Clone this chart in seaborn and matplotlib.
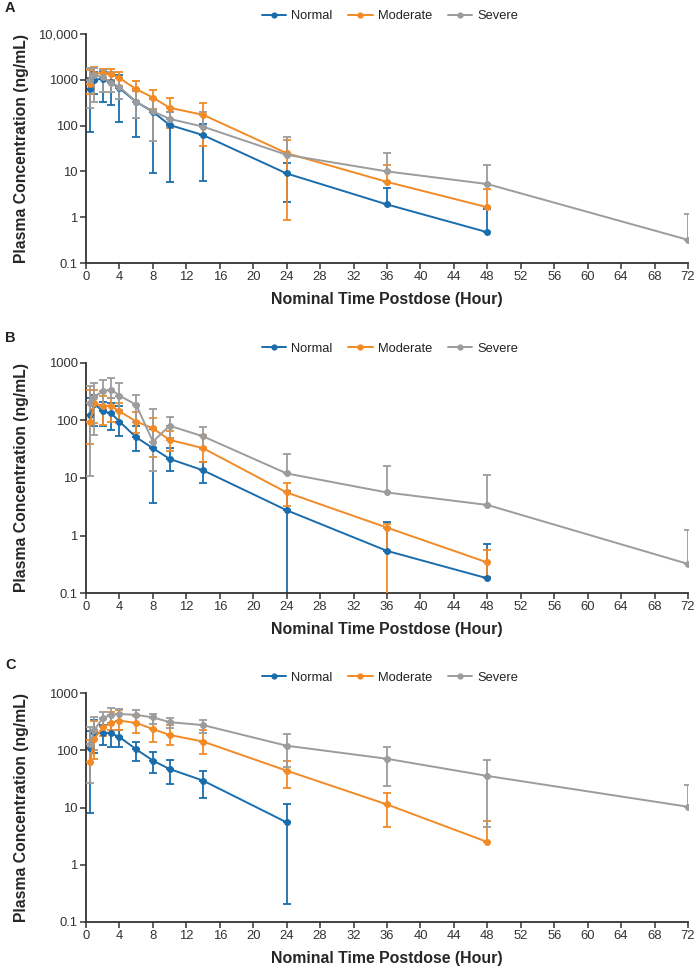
import numpy as np
import pandas as pd
import seaborn as sns
import matplotlib.pyplot as plt
from matplotlib.lines import Line2D
from matplotlib.ticker import FixedLocator, FuncFormatter, NullLocator

nan = np.nan

# ---------------- data ----------------
times = [0.5, 1, 2, 3, 4, 6, 8, 10, 14, 24, 36, 48, 72]
groups = ["Normal", "Moderate", "Severe"]
colors = ["#1a6dad", "#f28a26", "#9c9c9c"]

# Panel A
a_normal_mean = [620, 1000, 1050, 880, 650, 330, 200, 103, 62, 9.0, 1.9, 0.47, nan]
a_normal_lo = [74, 500, 320, 285, 120, 56, 9.0, 6.0, 6.2, 2.2, nan, nan, nan]
a_normal_hi = [1100, 1500, 1500, 1400, 1300, 600, 380, 200, 110, 15.5, 4.4, 1.5, nan]
a_moderate_mean = [820, 1350, 1400, 1350, 1090, 625, 410, 245, 172, 25, 5.9, 1.65, nan]
a_moderate_lo = [500, 950, 1050, 1000, 740, 330, 230, 90, 35, 0.87, nan, nan, nan]
a_moderate_hi = [1600, 1900, 1700, 1700, 1450, 920, 600, 400, 310, 48, 14, 4.2, nan]
a_severe_mean = [1000, 1250, 1150, 860, 700, 330, 205, 140, 95, 23, 10, 5.3, 0.32]
a_severe_lo = [245, 320, 530, 530, 385, 145, 45, 95, nan, nan, nan, nan, nan]
a_severe_hi = [1800, 1800, 1600, 1500, 1100, 560, 380, 200, 196, 55, 25, 14, 1.18]

# Panel B
b_normal_mean = [125, 195, 145, 134, 96, 51, 33, 21.5, 13.6, 2.75, 0.54, 0.18, nan]
b_normal_lo = [nan, 80, 79, 69, 53, 29, 3.7, 13, 8.1, 0.01, nan, nan, nan]
b_normal_hi = [250, 280, 210, 200, 180, 80, 70, 33, 19, 6.0, 1.7, 0.70, nan]
b_moderate_mean = [96, 200, 180, 180, 145, 96, 73, 46, 33, 5.6, 1.37, 0.34, nan]
b_moderate_lo = [39, 90, 84, 95, 92, 60, 23.6, 29, 19, 3.3, 0.01, 0.19, nan]
b_moderate_hi = [340, 340, 270, 245, 200, 138, 110, 65, 56, 8.1, 1.6, 0.55, nan]
b_severe_mean = [205, 260, 320, 345, 270, 188, 43, 81, 53, 12, 5.6, 3.4, 0.32]
b_severe_lo = [11, 56, 158, 245, 154, 96, 13.5, 49, 32, nan, nan, nan, nan]
b_severe_hi = [400, 450, 510, 550, 450, 275, 160, 113, 76, 26, 16.4, 11.4, 1.24]

# Panel C
c_normal_mean = [108, 200, 200, 198, 170, 104, 66, 47, 29.5, 5.5, nan, nan, nan]
c_normal_lo = [7.9, 90, 124, 116, 116, 65, 40, 26, 14.4, 0.21, nan, nan, nan]
c_normal_hi = [220, 340, 280, 300, 228, 142, 92, 68, 44, 11.3, nan, nan, nan]
c_moderate_mean = [62, 160, 250, 300, 330, 300, 235, 185, 142, 44, 11.3, 2.5, nan]
c_moderate_lo = [nan, 70, 180, 230, 230, 200, 142, 124, 86, 21.6, 4.5, nan, nan]
c_moderate_hi = [150, 330, 350, 470, 510, 400, 365, 280, 228, 65, 18, 5.8, nan]
c_severe_mean = [130, 228, 365, 415, 430, 415, 375, 310, 275, 120, 71, 35.6, 10.3]
c_severe_lo = [26.7, 100, 250, 300, 325, 300, 290, 243, 200, 51, 23.6, 4.5, nan]
c_severe_hi = [250, 380, 470, 545, 525, 510, 435, 365, 340, 194, 116, 68, 24.5]

y_ticks_a = [0.1, 1, 10, 100, 1000, 10000]
y_ticks_bc = [0.1, 1, 10, 100, 1000]
x_ticks = list(range(0, 73, 4))
x_label = "Nominal Time Postdose (Hour)"
y_label = "Plasma Concentration (ng/mL)"

panels = [
    dict(letter="A", ticks=y_ticks_a,
         mean=[a_normal_mean, a_moderate_mean, a_severe_mean],
         lo=[a_normal_lo, a_moderate_lo, a_severe_lo],
         hi=[a_normal_hi, a_moderate_hi, a_severe_hi]),
    dict(letter="B", ticks=y_ticks_bc,
         mean=[b_normal_mean, b_moderate_mean, b_severe_mean],
         lo=[b_normal_lo, b_moderate_lo, b_severe_lo],
         hi=[b_normal_hi, b_moderate_hi, b_severe_hi]),
    dict(letter="C", ticks=y_ticks_bc,
         mean=[c_normal_mean, c_moderate_mean, c_severe_mean],
         lo=[c_normal_lo, c_moderate_lo, c_severe_lo],
         hi=[c_normal_hi, c_moderate_hi, c_severe_hi]),
]

# ---------------- style ----------------
sns.set_theme(style="ticks")
plt.rcParams["font.family"] = ["Liberation Sans", "DejaVu Sans"]
plt.rcParams["axes.edgecolor"] = "#333333"
plt.rcParams["xtick.color"] = "#333333"
plt.rcParams["ytick.color"] = "#333333"
plt.rcParams["text.color"] = "#222222"

W, H = 695, 975
fig = plt.figure(figsize=(W / 100, H / 100), dpi=100)

# axes rects in pixels: (left, top, right, bottom)
px_rects = [(86, 34, 688, 263), (86, 363, 688, 593), (86, 693, 688, 922)]
legend_y = [16, 349, 678]
letter_y = [8, 338, 665]


def fmt(v, pos):
    if v >= 10000:
        return f"{int(v):,}"
    if v >= 1:
        return f"{int(v)}"
    return f"{v:g}"


palette = dict(zip(groups, colors))

for i, p in enumerate(panels):
    l, t, r, b = px_rects[i]
    ax = fig.add_axes([l / W, 1 - b / H, (r - l) / W, (b - t) / H])

    rows = []
    for g, m in zip(groups, p["mean"]):
        for tt, v in zip(times, m):
            if not np.isnan(v):
                rows.append(dict(time=tt, conc=v, group=g))
    df = pd.DataFrame(rows)

    for gi, g in enumerate(groups):
        m = np.array(p["mean"][gi], dtype=float)
        lo = np.array(p["lo"][gi], dtype=float)
        hi = np.array(p["hi"][gi], dtype=float)
        tt = np.array(times, dtype=float)
        ok = ~np.isnan(m)
        up_ok = ok & ~np.isnan(hi)
        ax.errorbar(tt[up_ok], m[up_ok], yerr=[np.zeros(up_ok.sum()), hi[up_ok] - m[up_ok]],
                    fmt="none", ecolor=colors[gi], elinewidth=1.3, capsize=3.2,
                    capthick=1.3, zorder=2 + gi)
        lo_ok = ok & ~np.isnan(lo)
        ax.errorbar(tt[lo_ok], m[lo_ok], yerr=[m[lo_ok] - lo[lo_ok], np.zeros(lo_ok.sum())],
                    fmt="none", ecolor=colors[gi], elinewidth=1.3, capsize=3.2,
                    capthick=1.3, zorder=2 + gi)

    sns.lineplot(data=df, x="time", y="conc", hue="group", hue_order=groups,
                 palette=palette, marker="o", markersize=5, markeredgewidth=0,
                 linewidth=1.4, estimator=None, errorbar=None, ax=ax, legend=False,
                 zorder=5)

    ax.set_yscale("log")
    ax.set_ylim(p["ticks"][0], p["ticks"][-1])
    ax.set_xlim(0, 72)
    ax.yaxis.set_major_locator(FixedLocator(p["ticks"]))
    ax.yaxis.set_minor_locator(NullLocator())
    ax.yaxis.set_major_formatter(FuncFormatter(fmt))
    ax.set_xticks(x_ticks)
    ax.tick_params(axis="both", labelsize=9.4, length=4, width=1.1, pad=2)
    for s in ["top", "right"]:
        ax.spines[s].set_visible(False)
    for s in ["left", "bottom"]:
        ax.spines[s].set_linewidth(1.3)

    ax.set_xlabel(x_label, fontsize=11.4, fontweight="bold", labelpad=6)
    ax.set_ylabel(y_label, fontsize=11.3, fontweight="bold")
    ax.yaxis.set_label_coords((29 - l) / (r - l), 0.5)

    handles = [Line2D([0], [0], color=c, marker="o", markersize=4.5, markeredgewidth=0,
                      linewidth=1.4) for c in colors]
    leg_y_axes = 1 + (t - legend_y[i]) / (b - t)
    ax.legend(handles, groups, loc="center", bbox_to_anchor=(0.505, leg_y_axes), ncol=3,
              frameon=False, fontsize=9.3, handlelength=1.9, handletextpad=0.4,
              columnspacing=1.2, borderaxespad=0)

    fig.text(5 / W, 1 - letter_y[i] / H, p["letter"], fontsize=10.5, fontweight="bold",
             ha="left", va="center")

fig.savefig("out.png", dpi=100)
